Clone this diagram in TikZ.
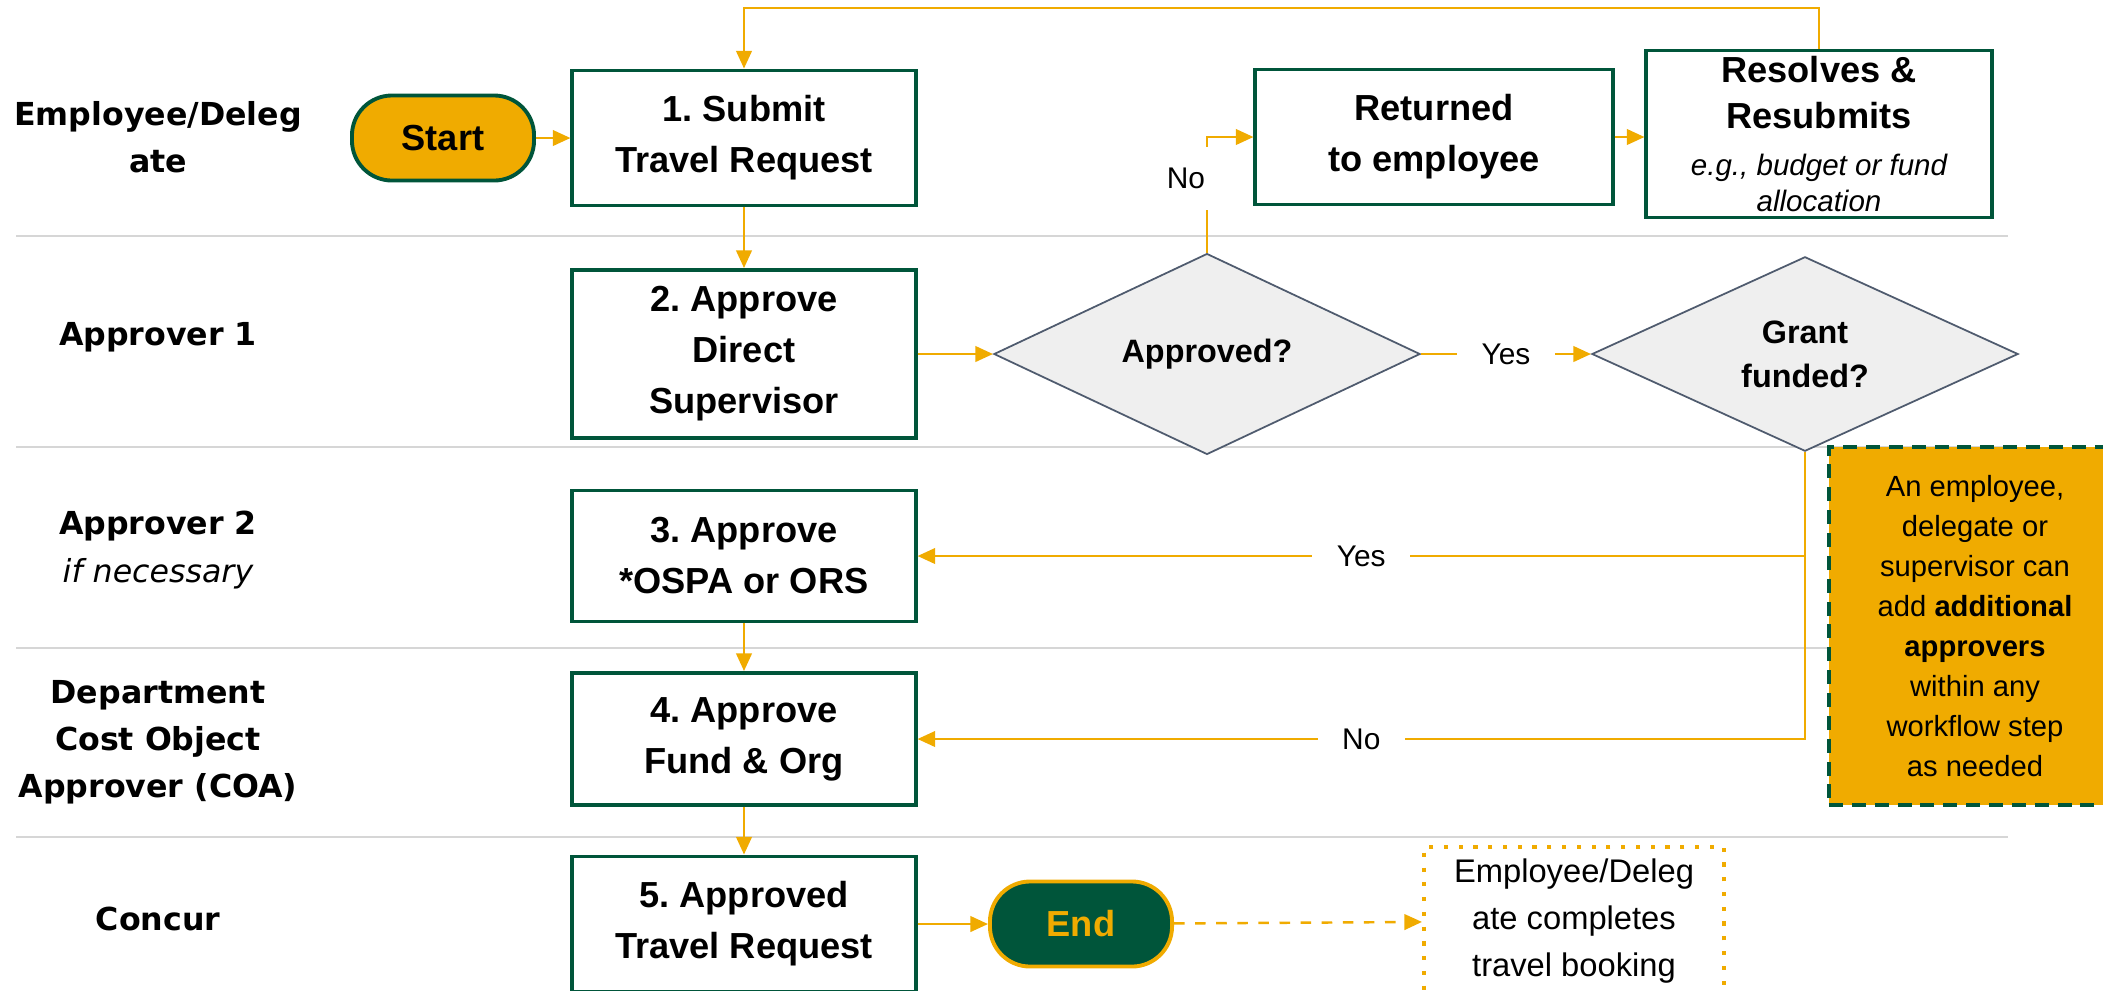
\documentclass[tikz,border=0pt]{standalone}
\usepackage{fontspec}
\setmainfont{Liberation Sans}
\newfontfamily\lanefont{DejaVu Sans}
\usetikzlibrary{shapes.geometric,arrows.meta,positioning}
\definecolor{gold}{HTML}{F0AB00}
\definecolor{forest}{HTML}{00553A}
\definecolor{slate}{HTML}{4F5B6E}
\definecolor{diafill}{HTML}{EFEFEF}
\definecolor{lanerule}{HTML}{D6D6D6}
\frenchspacing

\begin{document}
\begin{tikzpicture}[x=0.01cm,y=-0.01cm,
   lane/.style={font=\lanefont\bfseries\fontsize{9}{13.4}\selectfont, align=center},
   task/.style={draw=forest, line width=1.1pt, fill=white, minimum width=3.43cm, align=center, font=\bfseries\fontsize{10.3}{14.5}\selectfont},
   term/.style={line width=1.1pt, rounded corners=0.4cm, minimum width=1.82cm, minimum height=0.85cm, font=\bfseries\fontsize{10.3}{14.5}\selectfont},
   decision/.style={diamond, draw=slate, fill=diafill, line width=0.5pt, minimum width=4.26cm, minimum height=1.78cm, inner sep=0pt, align=center, font=\bfseries\fontsize{9.2}{12.5}\selectfont},
   flow/.style={color=gold, line width=0.7pt, -{Triangle[length=5pt,width=4.4pt]}},
   lbl/.style={fill=white, text=black, inner xsep=7pt, inner ysep=3pt, font=\fontsize{8.5}{10}\selectfont}]
   \useasboundingbox (0,0) rectangle (2103,990);

   % swimlanes
   \foreach \y in {236,447,648,837}
      \draw[lanerule, line width=0.6pt] (16,\y) -- (2008,\y);
   \node[lane] (l_1) at (158,137) {Employee/Deleg\\ate};
   \node[lane] (l_2) at (158,337) {Approver 1};
   \node[lane] (l_3) at (158,550) {Approver 2\\{\mdseries\itshape if necessary}};
   \node[lane] (l_4) at (158,742) {Department\\Cost Object\\Approver (COA)};
   \node[lane] (l_5) at (158,919) {Concur};

   % steps
   \node[term, draw=forest, fill=gold] (start) at (443,138) {Start};
   \node[task, minimum height=1.35cm] (t_1) at (744,138) {1. Submit\\Travel Request};
   \node[task, minimum height=1.68cm] (t_2) at (744,354) {2. Approve\\Direct\\Supervisor};
   \node[decision] (app) at (1207,354) {Approved?};
   \node[decision] (grant) at (1805,354) {Grant\\funded?};
   \node[task, minimum width=3.57cm, minimum height=1.35cm] (ret) at (1434,137) {Returned\\to employee};
   \node[task, minimum width=3.45cm, minimum height=1.67cm, inner ysep=0pt, font=\bfseries\fontsize{10.3}{13.3}\selectfont] (res) at (1819,134)
      {Resolves \&\\Resubmits\\{\mdseries\itshape\fontsize{8.4}{10.2}\selectfont e.g., budget or fund}\\[-3pt]{\mdseries\itshape\fontsize{8.4}{10.2}\selectfont allocation}};
   \node[task, minimum height=1.31cm] (t_3) at (744,556) {3. Approve\\*OSPA or ORS};
   \node[task, minimum height=1.32cm] (t_4) at (744,739) {4. Approve\\Fund \& Org};
   \node[task, minimum height=1.35cm] (t_5) at (744,924) {5. Approved\\Travel Request};
   \node[term, draw=gold, fill=forest, text=gold] (end) at (1081,924) {End};
   \node[draw=gold, line width=1.1pt, dash pattern=on 1.2pt off 3pt, minimum width=3.0cm, minimum height=1.37cm, align=center, font=\fontsize{9.3}{13.3}\selectfont] (book) at (1574,921)
      {Employee/Deleg\\ate completes\\travel booking};
   \node[draw=forest, fill=gold, line width=1.1pt, dash pattern=on 4pt off 2.5pt, minimum width=2.92cm, minimum height=3.58cm, align=center, font=\fontsize{8.3}{11.4}\selectfont] (note) at (1975,626)
      {An employee,\\delegate or\\supervisor can\\add \textbf{additional}\\\textbf{approvers}\\within any\\workflow step\\as needed};
   \coordinate (loop) at (744,8);

   % connectors
   \path[flow]
   (start) edge (t_1)
   (t_1) edge (t_2)
   (t_2) edge (app)
   (t_3) edge (t_4)
   (t_4) edge (t_5)
   (t_5) edge (end);
   \draw[flow] (app) -- node[lbl] {Yes} (grant);
   \draw[flow] (app.north) |- node[lbl, pos=0.32, xshift=-6pt, inner ysep=6pt] {No} (ret.west);
   \draw[flow] (ret.east) -- (ret.east -| res.west);
   \draw[flow] (res.north) |- (loop) -- (t_1.north);
   \draw[flow] (grant.south) |- node[lbl, pos=0.75] {Yes} (t_3.east);
   \draw[flow] (grant.south) |- node[lbl, pos=0.75] {No} (t_4.east);
   \draw[flow, dashed] (end) -- (book);
\end{tikzpicture}
\end{document}
